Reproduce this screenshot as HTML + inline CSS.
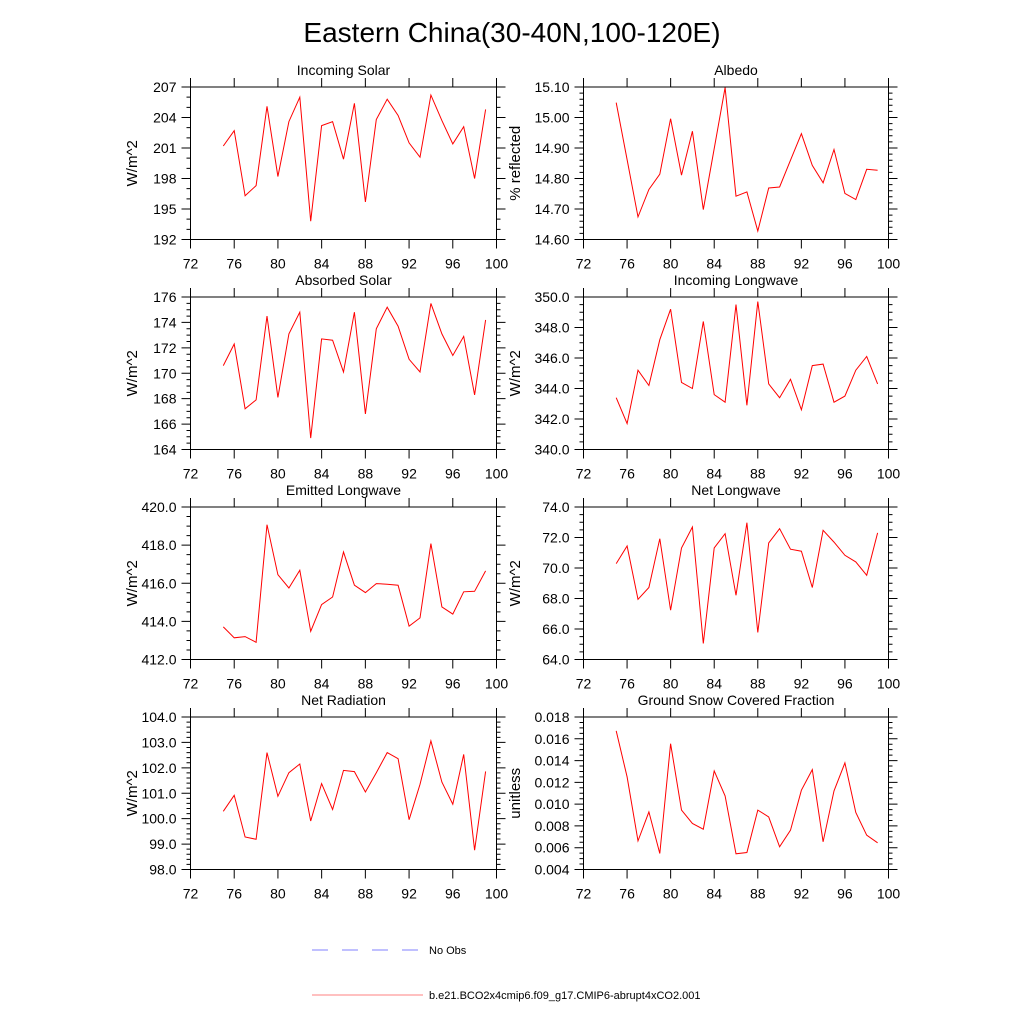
<!DOCTYPE html>
<html><head><meta charset="utf-8"><style>
html,body{margin:0;padding:0;background:#fff}
svg{display:block;font-family:"Liberation Sans",Arial,sans-serif}
</style></head><body>
<svg id="chart" width="1024" height="1024" viewBox="0 0 1024 1024" xmlns="http://www.w3.org/2000/svg">
<text x="512" y="42" text-anchor="middle" font-size="28">Eastern China(30-40N,100-120E)</text>
<g>
<line x1="312" y1="950" x2="420" y2="950" stroke="#8080ff" stroke-width="1" stroke-dasharray="16,14"/>
<text x="429" y="954" font-size="11">No Obs</text>
<line x1="312" y1="995" x2="423" y2="995" stroke="#ff8080" stroke-width="1"/>
<text x="429" y="999" font-size="11">b.e21.BCO2x4cmip6.f09_g17.CMIP6-abrupt4xCO2.001</text>
</g>
</svg>
<script>
const years=[75,76,77,78,79,80,81,82,83,84,85,86,87,88,89,90,91,92,93,94,95,96,97,98,99];
const xTicks=[72,76,80,84,88,92,96,100];
const incomingSolar=[201.2,202.7,196.3,197.3,205.1,198.2,203.6,206.0,193.8,203.2,203.6,199.9,205.4,195.7,203.8,205.8,204.2,201.5,200.1,206.2,203.7,201.4,203.1,198.0,204.8];
const albedo=[15.049,14.862,14.674,14.764,14.814,14.996,14.811,14.955,14.698,14.898,15.098,14.742,14.756,14.628,14.769,14.772,14.86,14.947,14.843,14.786,14.895,14.751,14.731,14.83,14.827];
const absorbedSolar=[170.6,172.3,167.2,167.9,174.5,168.1,173.1,174.8,164.9,172.7,172.6,170.1,174.8,166.8,173.5,175.2,173.7,171.1,170.1,175.5,173.1,171.4,172.9,168.3,174.2];
const incomingLW=[343.4,341.7,345.2,344.2,347.2,349.2,344.4,344.0,348.4,343.6,343.1,349.5,342.9,349.7,344.3,343.4,344.6,342.6,345.5,345.6,343.1,343.5,345.2,346.1,344.3];
const emittedLW=[413.71,413.14,413.2,412.9,419.07,416.45,415.75,416.68,413.48,414.88,415.28,417.64,415.9,415.51,415.98,415.95,415.9,413.75,414.18,418.08,414.76,414.38,415.55,415.58,416.65];
const netLW=[70.29,71.44,67.95,68.72,71.92,67.23,71.31,72.69,65.05,71.31,72.25,68.21,72.97,65.77,71.64,72.58,71.23,71.1,68.72,72.47,71.7,70.83,70.4,69.52,72.3];
const netRad=[100.29,100.92,99.28,99.19,102.6,100.88,101.81,102.15,99.91,101.38,100.36,101.9,101.85,101.05,101.81,102.6,102.36,99.96,101.35,103.06,101.44,100.57,102.53,98.76,101.86];
const snow=[0.01672,0.0125,0.00663,0.00929,0.00547,0.01555,0.00945,0.00822,0.0077,0.01305,0.01076,0.00544,0.00556,0.00945,0.00883,0.00608,0.00761,0.01128,0.01317,0.00654,0.01122,0.01379,0.00923,0.00715,0.00645];
const incomingSolarTicks=[192,195,198,201,204,207];
const albedoTicks=[14.6,14.7,14.8,14.9,15.0,15.1];
const absorbedTicks=[164,166,168,170,172,174,176];
const incomingLWTicks=[340,342,344,346,348,350];
const emittedTicks=[412,414,416,418,420];
const netLWTicks=[64,66,68,70,72,74];
const netRadTicks=[98,99,100,101,102,103,104];
const snowTicks=[0.004,0.006,0.008,0.010,0.012,0.014,0.016,0.018];

const panels=[
 {name:'incoming-solar',title:'Incoming Solar',yt:'W/m^2',data:incomingSolar,ticks:incomingSolarTicks,minor:1,dec:0,col:0,row:0},
 {name:'albedo',title:'Albedo',yt:'% reflected',data:albedo,ticks:albedoTicks,minor:0.02,dec:2,col:1,row:0},
 {name:'absorbed-solar',title:'Absorbed Solar',yt:'W/m^2',data:absorbedSolar,ticks:absorbedTicks,minor:0.5,dec:0,col:0,row:1},
 {name:'incoming-longwave',title:'Incoming Longwave',yt:'W/m^2',data:incomingLW,ticks:incomingLWTicks,minor:0.5,dec:1,col:1,row:1},
 {name:'emitted-longwave',title:'Emitted Longwave',yt:'W/m^2',data:emittedLW,ticks:emittedTicks,minor:0.5,dec:1,col:0,row:2},
 {name:'net-longwave',title:'Net Longwave',yt:'W/m^2',data:netLW,ticks:netLWTicks,minor:0.5,dec:1,col:1,row:2},
 {name:'net-radiation',title:'Net Radiation',yt:'W/m^2',data:netRad,ticks:netRadTicks,minor:0.2,dec:1,col:0,row:3},
 {name:'snow-fraction',title:'Ground Snow Covered Fraction',yt:'unitless',data:snow,ticks:snowTicks,minor:0.0005,dec:3,col:1,row:3}
];
const NS='http://www.w3.org/2000/svg';
const svg=document.getElementById('chart');
function mk(tag,attrs,parent){const e=document.createElementNS(NS,tag);for(const k in attrs)e.setAttribute(k,attrs[k]);parent.appendChild(e);return e;}
const colX=[[190.5,496.5],[583.5,888.5]];
const rowY=[[87,239.5],[297,449.5],[507,659.5],[717,869.5]];
panels.forEach(p=>{
 const [x0,x1]=colX[p.col],[y0,y1]=rowY[p.row];
 const ymin=p.ticks[0],ymax=p.ticks[p.ticks.length-1];
 const xs=v=>x0+(v-72)/(100-72)*(x1-x0);
 const ys=v=>y1-(v-ymin)/(ymax-ymin)*(y1-y0);
 const g=mk('g',{},svg);
 
 
 const t=mk('text',{x:(x0+x1)/2,y:y0-12,'text-anchor':'middle','font-size':14},g);
 
 
 t.textContent=p.title;
 const fr=mk('rect',{x:x0,y:y0,width:x1-x0,height:y1-y0,fill:'none',stroke:'#000','stroke-width':1},g);
 
 
 let d='';
 const n=Math.round((ymax-ymin)/p.minor);
 for(let i=0;i<=n;i++){const y=ys(ymin+i*p.minor);d+=`M${x0-4},${y}H${x0}M${x1},${y}H${x1+4}`;}
 p.ticks.forEach(v=>{const y=ys(v);d+=`M${x0-9},${y}H${x0}M${x1},${y}H${x1+9}`;});
 xTicks.forEach(v=>{const x=xs(v);d+=`M${x},${y1}V${y1+9}M${x},${y0}V${y0-9}`;});
 const tk=mk('path',{d:d,stroke:'#000','stroke-width':1,fill:'none'},g);
 
 
 p.ticks.forEach(v=>{const l=mk('text',{x:x0-14,y:ys(v)+5,'text-anchor':'end','font-size':14},g);
  
  
  l.textContent=v.toFixed(p.dec);});
 xTicks.forEach(v=>{const l=mk('text',{x:xs(v),y:y1+29,'text-anchor':'middle','font-size':14},g);
  
  
  l.textContent=v;});
 const yx=p.col===0?132:515;
 const yt=mk('text',{x:yx,y:(y0+y1)/2,'text-anchor':'middle','font-size':15,transform:`rotate(-90 ${yx} ${(y0+y1)/2})`,dy:5},g);
 
 
 yt.textContent=p.yt;
 const pts=years.map((yr,i)=>xs(yr).toFixed(1)+','+ys(p.data[i]).toFixed(1)).join(' ');
 const ln=mk('polyline',{points:pts,fill:'none',stroke:'#ff0000','stroke-width':1},g);
 
 
});
</script>
</body></html>
